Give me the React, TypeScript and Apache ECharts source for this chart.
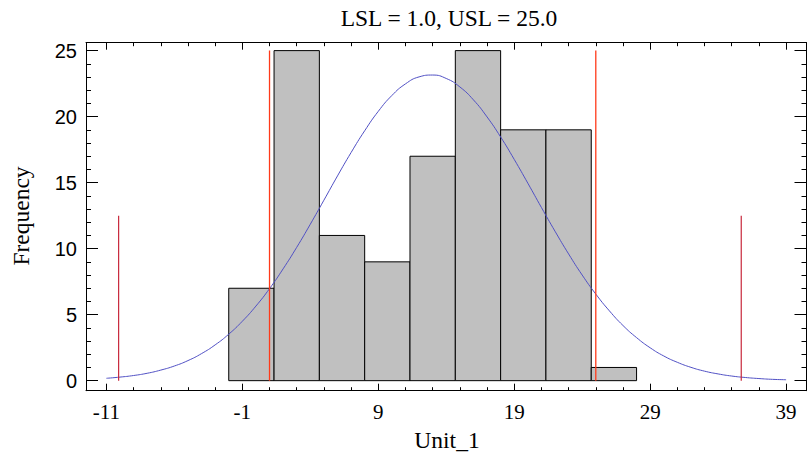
import React, { useEffect, useRef } from "react";
import * as echarts from "echarts";

// Histogram bins (Unit_1)
const binEdges = [-2, 1.333, 4.667, 8, 11.333, 14.667, 18, 21.333, 24.667, 28];
const binCounts = [7, 25, 11, 9, 17, 25, 19, 19, 1];

// Specification limits (tall red lines)
const specLimits = [1.0, 25.0];
const specHeight = 25;
// Mean ± 3 sigma markers (short lines)
const sigmaLines = [-10.1, 35.7];
const sigmaHeight = 12.5;

// Fitted normal curve
const curveX = [-11, -10, -9, -8, -7, -6, -5, -4, -3, -2, -1, 0, 1, 2, 3, 4, 5, 6, 7, 8, 9, 10, 11, 12, 13, 14, 15, 16, 17, 18, 19, 20, 21, 22, 23, 24, 25, 26, 27, 28, 29, 30, 31, 32, 33, 34, 35, 36, 37, 38, 39];
const curveY = [0.18, 0.27, 0.39, 0.56, 0.8, 1.11, 1.52, 2.05, 2.71, 3.52, 4.5, 5.65, 6.97, 8.47, 10.1, 11.85, 13.67, 15.51, 17.28, 18.93, 20.4, 21.6, 22.48, 23.01, 23.15, 22.89, 22.25, 21.27, 19.98, 18.46, 16.76, 14.96, 13.12, 11.32, 9.6, 8.0, 6.56, 5.29, 4.18, 3.26, 2.49, 1.87, 1.39, 1.01, 0.72, 0.51, 0.35, 0.24, 0.16, 0.1, 0.07];

// Tick labels
const xTickLabels = [-11, -1, 9, 19, 29, 39];
const yTickLabels = [0, 5, 10, 15, 20, 25];

const titleText = "LSL = 1.0, USL = 25.0";
const xName = "Unit_1";
const yName = "Frequency";

const X_MIN = -12.5;
const X_MAX = 40.5;
const Y_MIN = -0.76;
const Y_MAX = 25.6;

export default function App() {
  const ref = useRef<HTMLDivElement>(null);

  useEffect(() => {
    document.body.style.margin = "0";
    if (!ref.current) return;
    const chart = echarts.init(ref.current, null, { renderer: "svg" });

    const xMinor: number[] = [];
    for (let v = -11; v <= 39; v += 2) if (!xTickLabels.includes(v)) xMinor.push(v);
    const yMinor: number[] = [];
    for (let v = 0; v <= 25; v += 1) if (!yTickLabels.includes(v)) yMinor.push(v);

    const black = "#000";
    const mkX = (position: string, ticks: number[], len: number, line: boolean, labels: boolean) => ({
      type: "value",
      min: X_MIN,
      max: X_MAX,
      position,
      axisLine: { show: line, onZero: false, lineStyle: { color: black, width: 1 } },
      axisTick: { show: true, inside: true, length: len, customValues: ticks, lineStyle: { color: black, width: 1 } },
      axisLabel: labels
        ? { show: true, customValues: ticks, margin: 11, color: black, fontFamily: "Liberation Serif", fontSize: 21 }
        : { show: false },
      splitLine: { show: false },
    });
    const mkY = (position: string, ticks: number[], len: number, line: boolean, labels: boolean) => ({
      type: "value",
      min: Y_MIN,
      max: Y_MAX,
      position,
      axisLine: { show: line, onZero: false, lineStyle: { color: black, width: 1 } },
      axisTick: { show: true, inside: true, length: len, customValues: ticks, lineStyle: { color: black, width: 1 } },
      axisLabel: labels
        ? { show: true, customValues: ticks, margin: 9, color: black, fontFamily: "Liberation Sans", fontSize: 20 }
        : { show: false },
      splitLine: { show: false },
    });

    const series: any[] = [
      {
        type: "custom",
        xAxisIndex: 0,
        yAxisIndex: 0,
        data: binCounts.map((c, i) => [binEdges[i], binEdges[i + 1], c]),
        encode: { x: [0, 1], y: 2 },
        renderItem: (params: any, api: any) => {
          const lo = api.value(0);
          const hi = api.value(1);
          const c = api.value(2);
          const p0 = api.coord([lo, c]);
          const p1 = api.coord([hi, 0]);
          return {
            type: "rect",
            shape: { x: p0[0], y: p0[1], width: p1[0] - p0[0], height: p1[1] - p0[1] },
            style: { fill: "#c0c0c0", stroke: "#000", lineWidth: 1 },
          };
        },
        z: 2,
      },
    ];
    specLimits.forEach((v) =>
      series.push({
        type: "line",
        data: [[v, 0], [v, specHeight]],
        symbol: "none",
        lineStyle: { color: "#ff3a1a", width: 1.3 },
        z: 5,
      })
    );
    sigmaLines.forEach((v) =>
      series.push({
        type: "line",
        data: [[v, 0], [v, sigmaHeight]],
        symbol: "none",
        lineStyle: { color: "#c8283c", width: 1.2 },
        z: 5,
      })
    );
    series.push({
      type: "line",
      data: curveX.map((x, i) => [x, curveY[i]]),
      smooth: true,
      symbol: "none",
      lineStyle: { color: "#5050c4", width: 1 },
      z: 4,
    });

    chart.setOption({
      animation: false,
      backgroundColor: "#fff",
      grid: { left: 86, right: 1.5, top: 42.7, bottom: 67.3, containLabel: false },
      xAxis: [
        mkX("bottom", xTickLabels, 7, true, true),
        mkX("bottom", xMinor, 3.5, false, false),
        mkX("top", xTickLabels, 7, true, false),
        mkX("top", xMinor, 3.5, false, false),
      ],
      yAxis: [
        mkY("left", yTickLabels, 12, true, true),
        mkY("left", yMinor, 5, false, false),
        mkY("right", yTickLabels, 12, true, false),
        mkY("right", yMinor, 5, false, false),
      ],
      graphic: [
        {
          type: "text",
          x: 449,
          y: 18,
          style: { text: titleText, fontFamily: "Liberation Serif", fontSize: 23.5, fill: "#000", textAlign: "center", textVerticalAlign: "middle" },
        },
        {
          type: "text",
          x: 447,
          y: 440,
          style: { text: xName, fontFamily: "Liberation Serif", fontSize: 23.5, fill: "#000", textAlign: "center", textVerticalAlign: "middle" },
        },
        {
          type: "text",
          x: 21,
          y: 216,
          rotation: Math.PI / 2,
          style: { text: yName, fontFamily: "Liberation Serif", fontSize: 23.5, fill: "#000", textAlign: "center", textVerticalAlign: "middle" },
        },
      ],
      series,
    });

    return () => chart.dispose();
  }, []);

  return <div ref={ref} style={{ width: 808, height: 458 }} />;
}
